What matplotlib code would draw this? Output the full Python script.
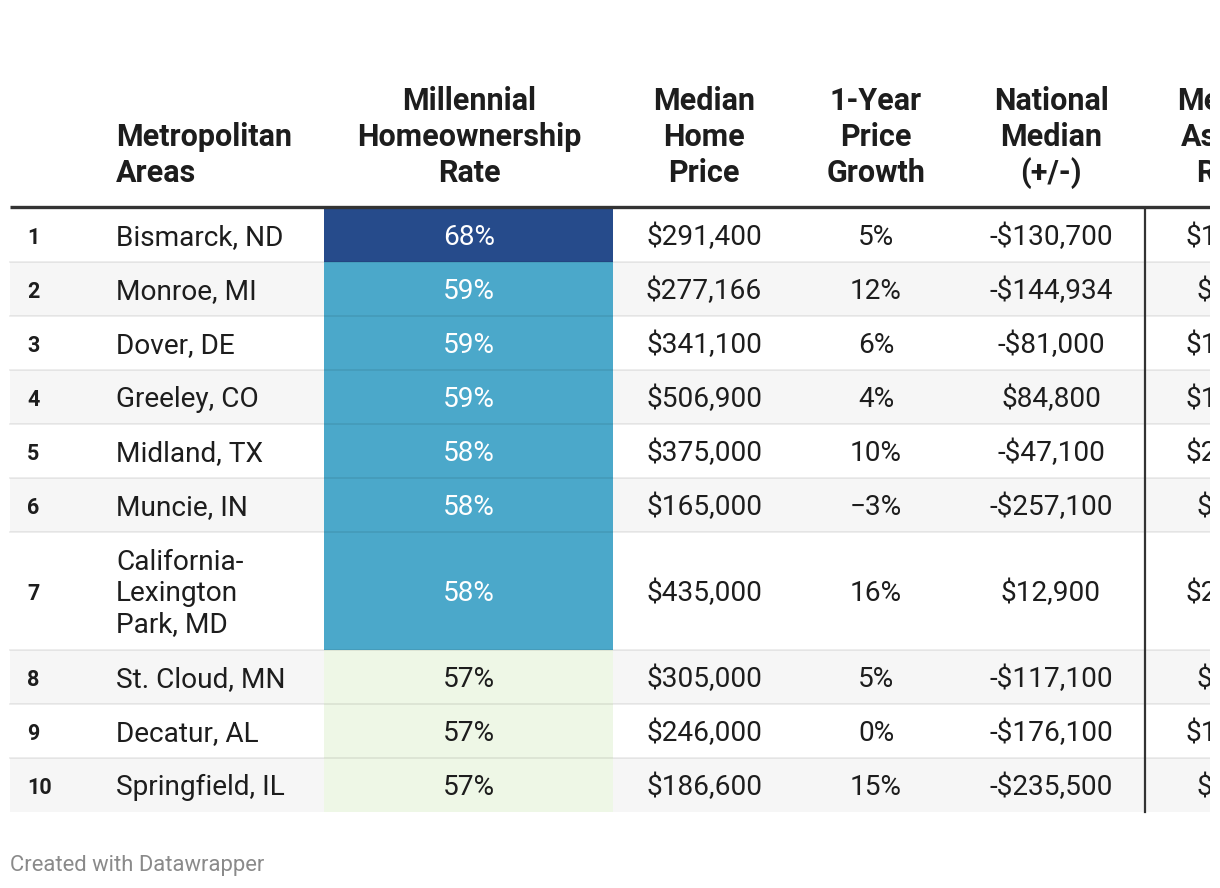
import matplotlib.pyplot as plt
from matplotlib.patches import Rectangle

plt.rcParams['font.family'] = ['Roboto', 'DejaVu Sans']

# table data
ranks = ['1', '2', '3', '4', '5', '6', '7', '8', '9', '10']
metros = ['Bismarck, ND', 'Monroe, MI', 'Dover, DE', 'Greeley, CO', 'Midland, TX',
          'Muncie, IN', 'California-\nLexington\nPark, MD', 'St. Cloud, MN',
          'Decatur, AL', 'Springfield, IL']
own_rate = [68, 59, 59, 59, 58, 58, 58, 57, 57, 57]
home_price = ['$291,400', '$277,166', '$341,100', '$506,900', '$375,000',
              '$165,000', '$435,000', '$305,000', '$246,000', '$186,600']
growth = ['5%', '12%', '6%', '4%', '10%', '\u22123%', '16%', '5%', '0%', '15%']
nat_diff = ['-$130,700', '-$144,934', '-$81,000', '$84,800', '-$47,100',
            '-$257,100', '$12,900', '-$117,100', '-$176,100', '-$235,500']
rent = ['$1,095', '$950', '$1,350', '$1,480', '$2,010',
        '$795', '$2,050', '$990', '$1,020', '$910']

headers = [['Metropolitan', 'Areas'],
           ['Millennial', 'Homeownership', 'Rate'],
           ['Median', 'Home', 'Price'],
           ['1-Year', 'Price', 'Growth'],
           ['National', 'Median', '(+/-)'],
           ['Median', 'Asking', 'Rent']]

W, H = 1220, 888
VIS = 1210  # the table is cut off at this x
fig = plt.figure(figsize=(W / 100, H / 100), dpi=100)
ax = fig.add_axes([0, 0, VIS / W, 1])
ax.set_xlim(0, VIS)
ax.set_ylim(H, 0)
ax.axis('off')

txt = '#1d1d1d'
left, right = 10, VIS
rate_x0, rate_x1 = 324, 613
col_x = {'metro': 116, 'rate': 469, 'price': 704, 'growth': 876, 'nat': 1051, 'rent': 1228}
vline_x = 1145
fs = 20.2

def cell_color(v):
    if v >= 65:
        return '#264b8b'
    if v >= 58:
        return '#4ba8ca'
    return '#eef7e6'

def put(x, y, s, **kw):
    t = ax.text(x, y, s, va='center', color=kw.pop('color', txt), **kw)
    t.set_clip_on(True)
    return t

# header
head_x = [(col_x['metro'], 'left'), (col_x['rate'], 'center'), (col_x['price'], 'center'),
          (col_x['growth'], 'center'), (col_x['nat'], 'center'), (col_x['rent'], 'center')]
line_h = 36
for (hx, ha), lines in zip(head_x, headers):
    n = len(lines)
    for k, s in enumerate(lines):
        y = 173 - (n - 1 - k) * line_h
        put(hx, y, s, ha=ha, fontsize=22, fontweight='bold')

top = 208
ax.plot([left, right], [top - 1, top - 1], color='#333333', lw=2.4, solid_capstyle='butt', zorder=5)

# rows
y = top
bounds = []
for i in range(len(ranks)):
    nl = metros[i].count('\n') + 1
    h = 54 + 32 * (nl - 1)
    yc = y + h / 2 + 2.5
    if i % 2 == 1:
        ax.add_patch(Rectangle((left, y), right - left, h, color='#f6f6f6', lw=0, zorder=0))
    ax.add_patch(Rectangle((rate_x0, y), rate_x1 - rate_x0, h, color=cell_color(own_rate[i]), lw=0, zorder=1))
    put(27, yc, ranks[i], ha='left', fontsize=15.5, fontweight='bold')
    put(col_x['metro'], yc, metros[i], ha='left', fontsize=fs, linespacing=1.17)
    put(col_x['rate'], yc, f'{own_rate[i]}%', ha='center', fontsize=fs,
        color='white' if own_rate[i] >= 58 else txt, zorder=3)
    put(col_x['price'], yc, home_price[i], ha='center', fontsize=fs)
    put(col_x['growth'], yc, growth[i], ha='center', fontsize=fs)
    put(col_x['nat'], yc, nat_diff[i], ha='center', fontsize=fs)
    put(col_x['rent'], yc, rent[i], ha='center', fontsize=fs)
    y += h
    bounds.append(y)

for b in bounds[:-1]:
    ax.plot([left, right], [b, b], color=(0, 0, 0, 0.08), lw=1.3, zorder=2)

ax.plot([vline_x, vline_x], [top, bounds[-1]], color='#333333', lw=1.6, zorder=4)

ax.text(10, 865, 'Created with Datawrapper', ha='left', va='center', fontsize=15.8, color='#8a8a8a')

fig.savefig('out.png', dpi=100)
